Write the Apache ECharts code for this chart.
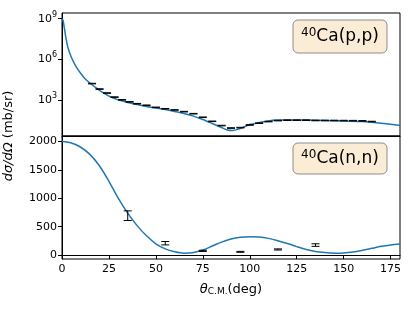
<!DOCTYPE html>
<html>
<head>
<meta charset="utf-8">
<script src="https://cdn.jsdelivr.net/npm/echarts@6/dist/echarts.min.js"></script>
<style>html,body{margin:0;padding:0;background:#fff}#c{width:415px;height:311px}</style>
</head>
<body>
<div id="c"></div>
<script>
// ---- Data ----
// Top panel: 40Ca(p,p) (mb/sr, log scale)
const ppCurveAngles = [0, 0.5, 1, 1.5, 2, 3, 4, 5, 6, 8, 10, 12, 15, 18, 21, 25, 30, 35, 40, 45, 50, 55, 60, 65, 70, 75, 80, 85, 88, 91, 94, 97, 100, 105, 110, 115, 120, 130, 140, 150, 160, 165, 170, 175, 180];
const ppCurveValues = [1e9, 7.9e8, 3.5e8, 1.26e8, 4.5e7, 9e6, 3.2e6, 1.4e6, 7e5, 2.2e5, 9e4, 4e4, 1.7e4, 8e3, 4e3, 1.9e3, 1e3, 630, 450, 320, 250, 190, 140, 100, 63, 35, 18, 9, 6, 5.5, 7, 10, 15, 21, 28, 32, 33, 32, 30, 28, 25, 22, 19, 16, 13];
const ppDataAngles = [16, 20, 24, 28, 32, 36, 40, 45, 50, 55, 60, 65, 70, 75, 80, 85, 90, 95, 100, 105, 110, 115, 120, 125, 130, 135, 140, 145, 150, 155, 160, 165];
const ppDataValues = [16000, 6300, 3200, 1600, 1000, 710, 520, 400, 280, 220, 180, 135, 95, 52, 26, 12.6, 8.3, 8.9, 14, 19, 25, 29.5, 31.6, 31.6, 31.6, 30, 30, 30, 29.5, 29, 28, 25];
const ppRelError = 0.05;
const ppTickExponents = [3, 6, 9];

// Bottom panel: 40Ca(n,n) (mb/sr, linear)
const nnCurveAngles = [0, 5, 10, 15, 20, 25, 30, 35, 40, 45, 50, 55, 60, 65, 70, 75, 80, 85, 90, 95, 100, 105, 110, 115, 120, 125, 130, 135, 140, 145, 150, 155, 160, 165, 170, 175, 180];
const nnCurveValues = [2000, 1975, 1900, 1770, 1570, 1300, 1000, 740, 520, 340, 200, 110, 60, 35, 45, 90, 160, 230, 285, 315, 325, 320, 295, 255, 205, 150, 100, 65, 45, 35, 38, 55, 85, 120, 155, 180, 195];
const nnDataAngles = [35, 55, 75, 95, 115, 135];
const nnDataLow = [610, 180, 65, 50, 90, 155];
const nnDataHigh = [780, 240, 85, 66, 110, 200];
const nnTicks = [0, 500, 1000, 1500, 2000];

const xTicksInterval = 25;

// ---- Build chart ----
const FONT = 'DejaVu Sans';
const chart = echarts.init(document.getElementById('c'), null, {renderer: 'canvas'});

const ppCurve = ppCurveAngles.map((a, i) => [a, Math.log10(ppCurveValues[i])]);
const ppErr = ppDataAngles.map((a, i) => [a, Math.log10(ppDataValues[i] * (1 - ppRelError)), Math.log10(ppDataValues[i] * (1 + ppRelError))]);
const nnCurve = nnCurveAngles.map((a, i) => [a, nnCurveValues[i]]);
const nnErr = nnDataAngles.map((a, i) => [a, nnDataLow[i], nnDataHigh[i]]);

function errRender(params, api) {
  const x = api.value(0);
  const lo = api.coord([x, api.value(1)]);
  const hi = api.coord([x, api.value(2)]);
  const w = 4;
  const st = {stroke: '#000', lineWidth: 1};
  return {
    type: 'group',
    children: [
      {type: 'line', shape: {x1: lo[0], y1: lo[1], x2: hi[0], y2: hi[1]}, style: st},
      {type: 'line', shape: {x1: lo[0] - w, y1: lo[1], x2: lo[0] + w, y2: lo[1]}, style: st},
      {type: 'line', shape: {x1: hi[0] - w, y1: hi[1], x2: hi[0] + w, y2: hi[1]}, style: st}
    ]
  };
}

const axisLine = {show: true, lineStyle: {color: '#000', width: 1}};
const labelStyle = {color: '#000', fontSize: 11, fontFamily: FONT};

const option = {
  animation: false,
  backgroundColor: '#fff',
  grid: [
    {left: 62, top: 13, width: 338, height: 123, show: true, borderColor: '#000', borderWidth: 1, containLabel: false},
    {left: 62, top: 136, width: 338, height: 123, show: true, borderColor: '#000', borderWidth: 1, containLabel: false}
  ],
  xAxis: [
    {type: 'value', gridIndex: 0, min: 0, max: 180, interval: xTicksInterval, axisLine: axisLine,
     axisTick: {show: false}, axisLabel: {show: false}, splitLine: {show: false}},
    {type: 'value', gridIndex: 1, min: 0, max: 180, interval: xTicksInterval, axisLine: axisLine,
     axisTick: {show: true, length: 4, lineStyle: {color: '#000'}},
     axisLabel: Object.assign({margin: 5, formatter: v => String(v)}, labelStyle), splitLine: {show: false},
     name: '{i|θ}{sub|C.M.}(deg)', nameLocation: 'middle', nameGap: 24,
     nameTextStyle: {color: '#000', fontSize: 13, fontFamily: FONT,
       rich: {i: {fontStyle: 'italic', fontSize: 13, fontFamily: FONT, color: '#000'},
              sub: {fontSize: 9, fontFamily: FONT, color: '#000', verticalAlign: 'bottom'}}}}
  ],
  yAxis: [
    {type: 'value', gridIndex: 0, min: 0.33, max: 9.42, axisLine: axisLine,
     axisTick: {show: true, length: 4, lineStyle: {color: '#000'}, customValues: ppTickExponents},
     axisLabel: {customValues: ppTickExponents, color: '#000', fontSize: 11, fontFamily: FONT, margin: 5,
       formatter: v => '10{sup|' + v + '}',
       rich: {sup: {fontSize: 8, fontFamily: FONT, color: '#000', verticalAlign: 'top', padding: [0, 0, 8, 0]}}},
     splitLine: {show: false}},
    {type: 'value', gridIndex: 1, min: -68, max: 2098, axisLine: axisLine,
     axisTick: {show: true, length: 4, lineStyle: {color: '#000'}, customValues: nnTicks},
     axisLabel: Object.assign({customValues: nnTicks, margin: 5, formatter: v => String(v)}, labelStyle),
     splitLine: {show: false}}
  ],
  series: [
    {type: 'line', xAxisIndex: 0, yAxisIndex: 0, data: ppCurve, smooth: 0.3, showSymbol: false,
     lineStyle: {color: '#1f77b4', width: 1.5}, z: 2},
    {type: 'custom', xAxisIndex: 0, yAxisIndex: 0, data: ppErr, renderItem: errRender, encode: {x: 0, y: [1, 2]}, z: 3},
    {type: 'line', xAxisIndex: 1, yAxisIndex: 1, data: nnCurve, smooth: 0.3, showSymbol: false,
     lineStyle: {color: '#1f77b4', width: 1.5}, z: 2},
    {type: 'custom', xAxisIndex: 1, yAxisIndex: 1, data: nnErr, renderItem: errRender, encode: {x: 0, y: [1, 2]}, z: 3}
  ],
  graphic: [
    {type: 'text', x: 9, y: 136, rotation: Math.PI / 2,
     style: {text: '{i|dσ/dΩ} (mb/sr)', fill: '#000', fontSize: 13, fontFamily: FONT, align: 'center', verticalAlign: 'middle',
       rich: {i: {fontStyle: 'italic', fontSize: 13, fontFamily: FONT, fill: '#000'}}}},
    {type: 'rect', shape: {x: 293, y: 20, width: 94, height: 33, r: 5}, style: {fill: '#fbecd6', stroke: '#8c8c8c', lineWidth: 1}, z: 10},
    {type: 'text', x: 340, y: 37, z: 11,
     style: {text: '{s|40}Ca(p,p)', fill: '#000', fontSize: 17, fontFamily: FONT, align: 'center', verticalAlign: 'middle',
       rich: {s: {fontSize: 12, fontFamily: FONT, fill: '#000', verticalAlign: 'top', padding: [0, 0, 8, 0]}}}},
    {type: 'rect', shape: {x: 293, y: 143, width: 94, height: 31, r: 5}, style: {fill: '#fbecd6', stroke: '#8c8c8c', lineWidth: 1}, z: 10},
    {type: 'text', x: 340, y: 159, z: 11,
     style: {text: '{s|40}Ca(n,n)', fill: '#000', fontSize: 17, fontFamily: FONT, align: 'center', verticalAlign: 'middle',
       rich: {s: {fontSize: 12, fontFamily: FONT, fill: '#000', verticalAlign: 'top', padding: [0, 0, 8, 0]}}}}
  ]
};
chart.setOption(option);
</script>
</body>
</html>
